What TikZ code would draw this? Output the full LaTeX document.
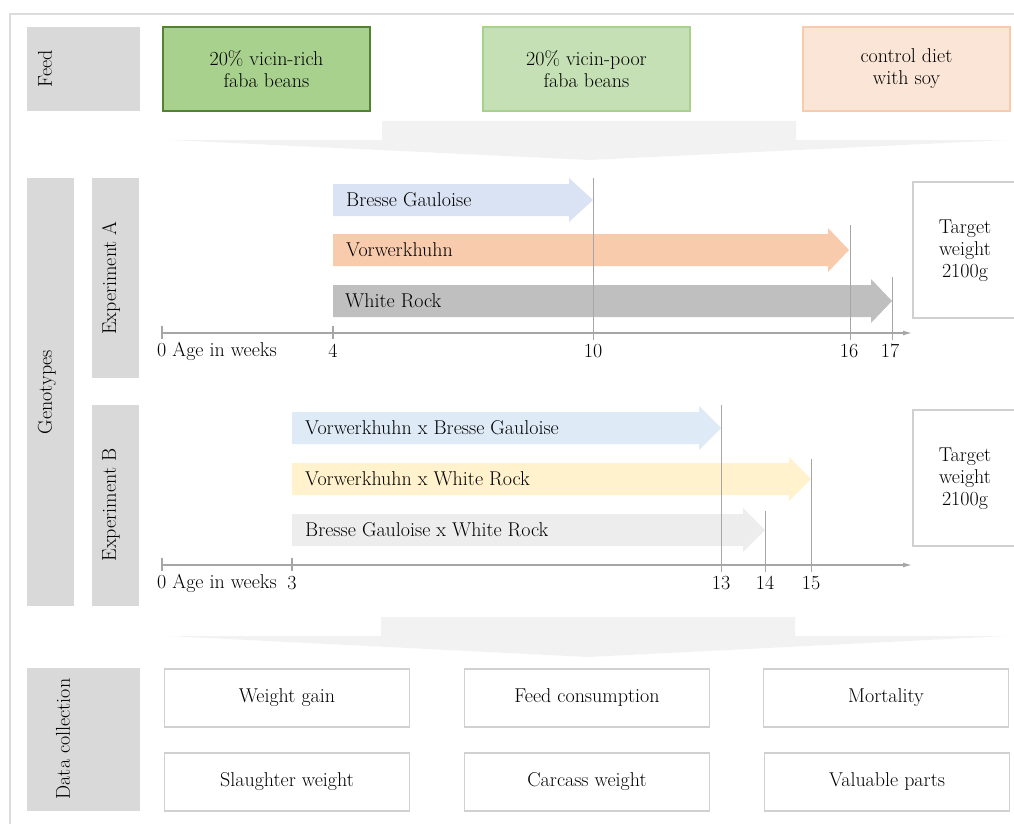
\documentclass[tikz,border=0pt]{standalone}
\usetikzlibrary{arrows.meta}
\definecolor{lblgray}{HTML}{D9D9D9}
\definecolor{framegray}{HTML}{DCDCDC}
\definecolor{boxgray}{HTML}{D0D0D0}
\definecolor{linegray}{HTML}{A6A6A6}
\definecolor{chevgray}{HTML}{F2F2F2}
\definecolor{grA}{HTML}{A9D18E}
\definecolor{grAd}{HTML}{548235}
\definecolor{grB}{HTML}{C5E0B4}
\definecolor{orC}{HTML}{FBE5D6}
\definecolor{orCd}{HTML}{F8CBAD}
\definecolor{blA}{HTML}{DAE3F3}
\definecolor{orA}{HTML}{F8CBAD}
\definecolor{gyA}{HTML}{BFBFBF}
\definecolor{blB}{HTML}{DEEBF7}
\definecolor{yeB}{HTML}{FFF2CC}
\definecolor{gyB}{HTML}{EDEDED}
\newcommand{\myblockarrow}[5]{\fill[#1] (#2,#5-16) -- (#3,#5-16) -- (#3,#5-22) -- (#4,#5) -- (#3,#5+22) -- (#3,#5+16) -- (#2,#5+16) -- cycle;}
\begin{document}
\begin{tikzpicture}[x=1pt,y=-1pt,
  txt/.style={font=\fontsize{20}{22}\selectfont, inner sep=0pt, align=center, text=black},
  lblbox/.style={fill=lblgray, draw=none, inner sep=0pt},
  feedbox/.style={txt, line width=1.5pt, minimum width=207pt, minimum height=84pt},
  wbox/.style={txt, draw=boxgray, line width=1.5pt, fill=white},
  vline/.style={draw=linegray, line width=1pt},
  axisline/.style={draw=linegray, line width=1.2pt, -{Latex[length=9pt,width=5pt]}},
  tick/.style={draw=linegray, line width=1.2pt}
]
\useasboundingbox (0,0) rectangle (1014,824);
% outer frame
\draw[framegray, line width=1.8pt] (10,830) -- (10,14) -- (1020,14);

% ---------- Feed row
\node[lblbox, minimum width=113pt, minimum height=84pt] (feedlbl) at (83.5,69) {};
\node[txt, rotate=90] (feedtxt) at (45,69) {Feed};
\node[feedbox, fill=grA, draw=grAd] (f1) at (266.5,69) {20\% vicin-rich\\faba beans};
\node[feedbox, fill=grB, draw=grA] (f2) at (586.5,69) {20\% vicin-poor\\faba beans};
\node[feedbox, fill=orC, draw=orCd] (f3) at (906.5,69) {control diet\\with soy};

% chevron 1
\fill[chevgray] (382,121) -- (796,121) -- (796,140) -- (1008,140) -- (589,160) -- (169,140) -- (382,140) -- cycle;

% ---------- Genotypes
\node[lblbox, minimum width=47pt, minimum height=428pt] (genlbl) at (50.5,392) {};
\node[txt, rotate=90] (gentxt) at (47,392) {Genotypes};
\node[lblbox, minimum width=47pt, minimum height=200pt] (expAlbl) at (115.5,278) {};
\node[txt, rotate=90] (expAtxt) at (111,278) {Experiment A};
\node[lblbox, minimum width=47pt, minimum height=201pt] (expBlbl) at (115.5,505.5) {};
\node[txt, rotate=90] (expBtxt) at (111,505) {Experiment B};

% Experiment A arrows
\myblockarrow{blA}{333}{569}{593}{200}
\myblockarrow{orA}{333}{828}{849}{250}
\myblockarrow{gyA}{333}{871}{892}{301}
\node[txt, anchor=west] (bg) at (346,200) {Bresse Gauloise};
\node[txt, anchor=west] (vw) at (346,250) {Vorwerkhuhn};
\node[txt, anchor=west] (wr) at (345,301) {White Rock};

% Experiment A axis
\coordinate (aA0) at (162,333);
\coordinate (aAend) at (912,333);
\draw[axisline] (aA0) -- (aAend);
\draw[tick] (162,326) -- (162,339);
\draw[tick] (333,326) -- (333,339);
\coordinate (lA10t) at (593,178); \coordinate (lA10b) at (593,340);
\coordinate (lA16t) at (850,225); \coordinate (lA16b) at (850,340);
\coordinate (lA17t) at (892,277); \coordinate (lA17b) at (892,340);
\draw[vline] (lA10t) -- (lA10b);
\draw[vline] (lA16t) -- (lA16b);
\draw[vline] (lA17t) -- (lA17b);
\node[txt, anchor=west] (ageA) at (157,351) {0 Age in weeks};
\node[txt] (nA4) at (333,351) {4};
\node[txt] (nA10) at (593,351) {10};
\node[txt] (nA16) at (849,351) {16};
\node[txt] (nA17) at (890,351) {17};
\node[wbox, minimum width=130pt, minimum height=136pt] (tgA) at (978,250) {};
\node[txt] (tgAtxt) at (965,251) {Target\\weight\\2100g};

% Experiment B arrows
\myblockarrow{blB}{292}{699}{721}{428}
\myblockarrow{yeB}{292}{789}{811}{479}
\myblockarrow{gyB}{292}{743}{765}{530}
\node[txt, anchor=west] (vbg) at (305,428) {Vorwerkhuhn x Bresse Gauloise};
\node[txt, anchor=west] (vwr) at (305,479) {Vorwerkhuhn x White Rock};
\node[txt, anchor=west] (bgwr) at (305,530) {Bresse Gauloise x White Rock};

% Experiment B axis
\coordinate (aB0) at (162,565);
\coordinate (aBend) at (912,565);
\draw[axisline] (aB0) -- (aBend);
\draw[tick] (162,558) -- (162,571);
\draw[tick] (292,558) -- (292,571);
\coordinate (lB13t) at (721,405); \coordinate (lB13b) at (721,572);
\coordinate (lB14t) at (765,511); \coordinate (lB14b) at (765,572);
\coordinate (lB15t) at (811,459); \coordinate (lB15b) at (811,572);
\draw[vline] (lB13t) -- (lB13b);
\draw[vline] (lB14t) -- (lB14b);
\draw[vline] (lB15t) -- (lB15b);
\node[txt, anchor=west] (ageB) at (157,583) {0 Age in weeks};
\node[txt] (nB3) at (292,583) {3};
\node[txt] (nB13) at (721,583) {13};
\node[txt] (nB14) at (765,583) {14};
\node[txt] (nB15) at (811,583) {15};
\node[wbox, minimum width=130pt, minimum height=136pt] (tgB) at (978,478) {};
\node[txt] (tgBtxt) at (965,479) {Target\\weight\\2100g};

% chevron 2
\fill[chevgray] (381,617) -- (795,617) -- (795,636) -- (1007,636) -- (588,657) -- (168,636) -- (381,636) -- cycle;

% ---------- Data collection
\node[lblbox, minimum width=113pt, minimum height=143pt] (datalbl) at (83.5,739.5) {};
\node[txt, rotate=90] (datatxt) at (63,739) {Data collection};
\node[wbox, minimum width=245pt, minimum height=58pt] (d1) at (287,698) {Weight gain};
\node[wbox, minimum width=245pt, minimum height=58pt] (d2) at (587,698) {Feed consumption};
\node[wbox, minimum width=245pt, minimum height=58pt] (d3) at (886,698) {Mortality};
\node[wbox, minimum width=245pt, minimum height=58pt] (d4) at (287,782) {Slaughter weight};
\node[wbox, minimum width=245pt, minimum height=58pt] (d5) at (587,782) {Carcass weight};
\node[wbox, minimum width=245pt, minimum height=58pt] (d6) at (887,782) {Valuable parts};
\end{tikzpicture}
\end{document}
